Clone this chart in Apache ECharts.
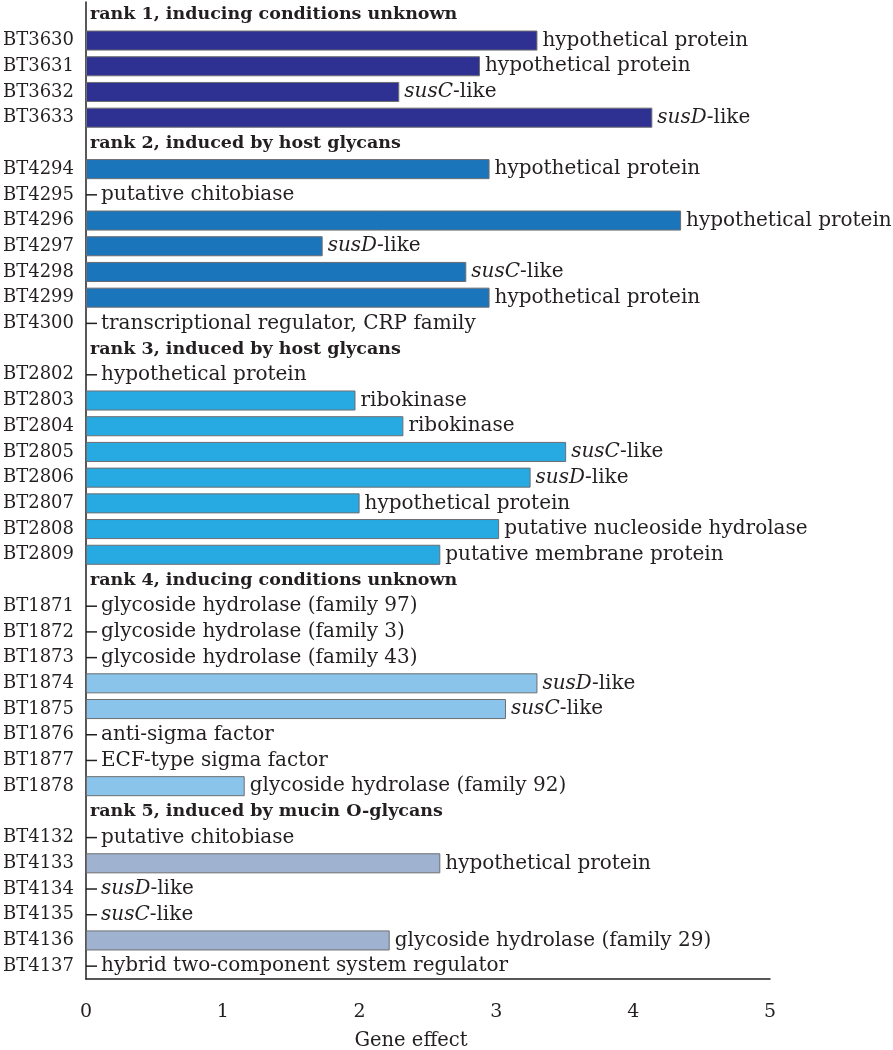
<!DOCTYPE html>
<html><head><meta charset="utf-8">
<script src="https://cdn.jsdelivr.net/npm/echarts@6/dist/echarts.min.js"></script>
<style>html,body{margin:0;padding:0;background:#fff}#c{width:893px;height:1050px}</style>
</head><body><div id="c"></div>
<script>
const rankTitles = [
  'rank 1, inducing conditions unknown',
  'rank 2, induced by host glycans',
  'rank 3, induced by host glycans',
  'rank 4, inducing conditions unknown',
  'rank 5, induced by mucin O-glycans'
];
const genes = [
  'BT3630','BT3631','BT3632','BT3633',
  'BT4294','BT4295','BT4296','BT4297','BT4298','BT4299','BT4300',
  'BT2802','BT2803','BT2804','BT2805','BT2806','BT2807','BT2808','BT2809',
  'BT1871','BT1872','BT1873','BT1874','BT1875','BT1876','BT1877','BT1878',
  'BT4132','BT4133','BT4134','BT4135','BT4136','BT4137'
];
const geneRank = [
  1,1,1,1,
  2,2,2,2,2,2,2,
  3,3,3,3,3,3,3,3,
  4,4,4,4,4,4,4,4,
  5,5,5,5,5,5
];
const geneEffect = [
  3.30, 2.88, 2.29, 4.14,
  2.95, 0, 4.35, 1.73, 2.78, 2.95, 0,
  0, 1.97, 2.32, 3.51, 3.25, 2.00, 3.02, 2.59,
  0, 0, 0, 3.30, 3.07, 0, 0, 1.16,
  0, 2.59, 0, 0, 2.22, 0
];
const geneDesc = [
  'hypothetical protein','hypothetical protein','{i|susC}-like','{i|susD}-like',
  'hypothetical protein','putative chitobiase','hypothetical protein','{i|susD}-like','{i|susC}-like','hypothetical protein','transcriptional regulator, CRP family',
  'hypothetical protein','ribokinase','ribokinase','{i|susC}-like','{i|susD}-like','hypothetical protein','putative nucleoside hydrolase','putative membrane protein',
  'glycoside hydrolase (family 97)','glycoside hydrolase (family 3)','glycoside hydrolase (family 43)','{i|susD}-like','{i|susC}-like','anti-sigma factor','ECF-type sigma factor','glycoside hydrolase (family 92)',
  'putative chitobiase','hypothetical protein','{i|susD}-like','{i|susC}-like','glycoside hydrolase (family 29)','hybrid two-component system regulator'
];
const xTicks = [0, 1, 2, 3, 4, 5];

const rankColors = ['#2e3192', '#1b75bb', '#27aae1', '#8bc4ea', '#9fb3d1'];
const FONT = 'DejaVu Serif';
const TXT = '#231f20';

const categories = [];
const data = [];
rankTitles.forEach((t, ri) => {
  categories.push('__h' + (ri + 1));
  data.push({
    value: 0,
    itemStyle: { color: 'transparent', borderWidth: 0 },
    label: { formatter: t, fontWeight: 'bold', distance: 4, fontSize: 17.5 }
  });
  genes.forEach((g, gi) => {
    if (geneRank[gi] !== ri + 1) return;
    categories.push(g);
    const v = geneEffect[gi];
    if (v === 0) {
      data.push({
        value: 0,
        itemStyle: { color: 'transparent', borderWidth: 0 },
        label: { formatter: '{d|}{g|}' + geneDesc[gi], distance: 0 }
      });
    } else {
      data.push({
        value: v,
        itemStyle: { color: rankColors[ri] },
        label: { formatter: geneDesc[gi], distance: 5 }
      });
    }
  });
});

const chart = echarts.init(document.getElementById('c'));
chart.setOption({
  animation: false,
  grid: { left: 86, right: 123, top: 2, bottom: 71, containLabel: false, outerBoundsMode: 'none' },
  xAxis: {
    type: 'value', min: 0, max: 5, interval: 1,
    axisLine: { show: true, lineStyle: { color: TXT, width: 1.5 } },
    axisTick: { show: false },
    splitLine: { show: false },
    axisLabel: { color: TXT, fontFamily: FONT, fontSize: 19, margin: 24,
      formatter: v => xTicks.includes(v) ? String(v) : '' },
    name: 'Gene effect', nameLocation: 'middle', nameGap: 52,
    nameTextStyle: { color: TXT, fontFamily: FONT, fontSize: 19.5, padding: [0, 34, 0, 0] }
  },
  yAxis: {
    type: 'category', data: categories, inverse: true,
    axisLine: { show: true, lineStyle: { color: TXT, width: 1.5 } },
    axisTick: { show: false },
    axisLabel: { color: TXT, fontFamily: FONT, fontSize: 18, margin: 12,
      formatter: v => v.startsWith('__') ? '' : v }
  },
  series: [{
    type: 'bar',
    data: data,
    barCategoryGap: '22%',
    itemStyle: { borderColor: '#6d6e71', borderWidth: 1 },
    label: {
      show: true, position: 'right', color: TXT, fontFamily: FONT, fontSize: 20,
      rich: {
        i: { fontStyle: 'italic', fontFamily: FONT, fontSize: 20, color: TXT },
        d: { width: 11, height: 1.5, backgroundColor: TXT },
        g: { width: 4 }
      }
    }
  }]
});
</script></body></html>
